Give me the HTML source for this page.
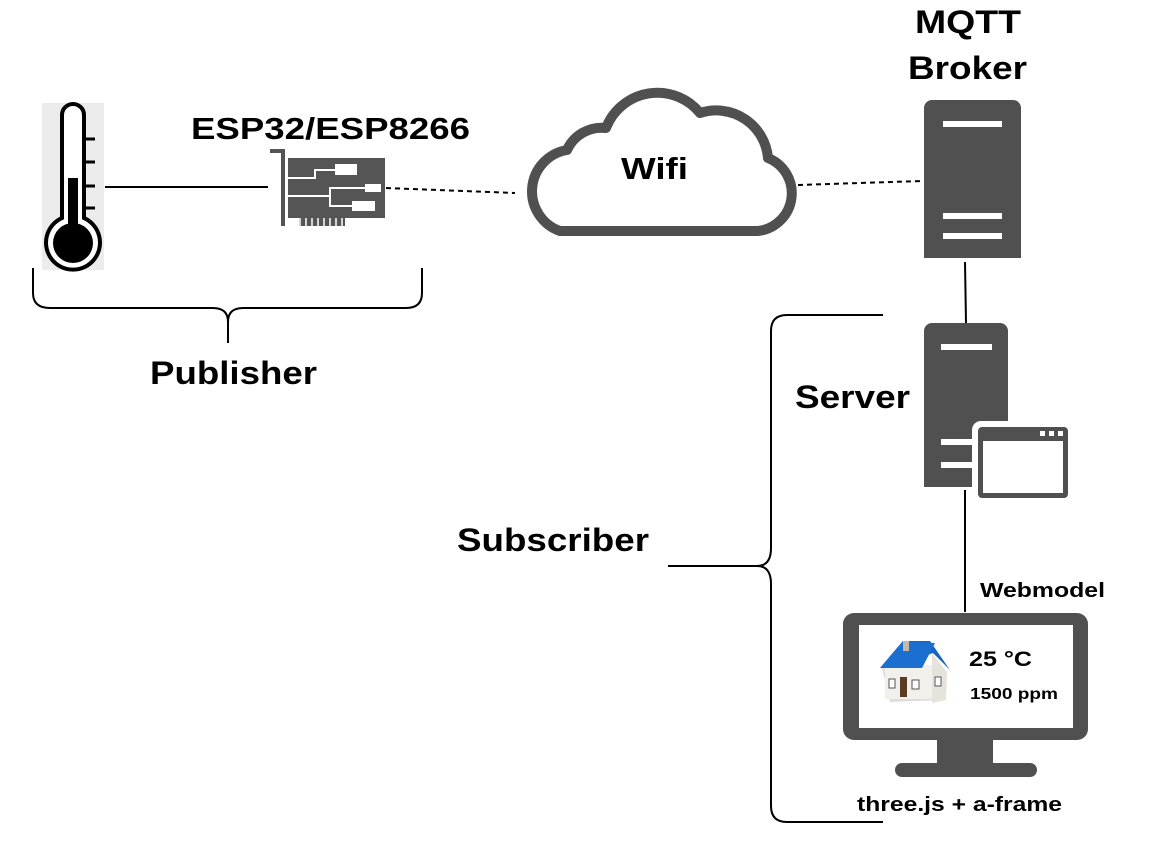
<!DOCTYPE html>
<html><head><meta charset="utf-8"><style>
html,body{margin:0;padding:0;background:#fff;}
svg{display:block;}
text{font-family:"Liberation Sans",Arial,sans-serif;font-weight:bold;fill:#000;}
</style></head><body>
<svg width="1160" height="843" viewBox="0 0 1160 843" xmlns="http://www.w3.org/2000/svg">
<!-- thermometer -->
<rect x="42" y="103" width="62" height="167" fill="#ececec"/>
<path d="M62 218 V115 A11 11 0 0 1 84 115 V218 A27 27 0 1 1 62 218 Z" fill="#fff" stroke="#000" stroke-width="4"/>
<circle cx="73" cy="243" r="20" fill="#000"/>
<rect x="68" y="178" width="10" height="60" fill="#000"/>
<g stroke="#000" stroke-width="3">
<line x1="84" y1="139" x2="95" y2="139"/><line x1="84" y1="162" x2="95" y2="162"/>
<line x1="84" y1="186" x2="95" y2="186"/><line x1="84" y1="208" x2="95" y2="208"/>
</g>
<!-- connectors -->
<line x1="105" y1="187" x2="268" y2="187" stroke="#000" stroke-width="2"/>
<line x1="386" y1="188" x2="515" y2="193" stroke="#000" stroke-width="2" stroke-dasharray="5,4"/>
<line x1="798" y1="185" x2="922" y2="181" stroke="#000" stroke-width="2" stroke-dasharray="5,4"/>
<line x1="965" y1="262" x2="966" y2="323" stroke="#000" stroke-width="2"/>
<line x1="965" y1="490" x2="965" y2="612" stroke="#000" stroke-width="2"/>
<!-- ESP card -->
<path d="M270 151 H283 V226" fill="none" stroke="#555" stroke-width="4"/>
<rect x="288" y="158" width="97" height="60" fill="#555"/>
<rect x="299" y="218" width="46" height="8" fill="#555"/>
<g stroke="#fff" stroke-width="1.5">
<line x1="300" y1="218" x2="300" y2="226"/><line x1="306" y1="218" x2="306" y2="226"/><line x1="312" y1="218" x2="312" y2="226"/><line x1="318" y1="218" x2="318" y2="226"/><line x1="324" y1="218" x2="324" y2="226"/><line x1="330" y1="218" x2="330" y2="226"/><line x1="336" y1="218" x2="336" y2="226"/><line x1="342" y1="218" x2="342" y2="226"/>
</g>
<g fill="none" stroke="#fff" stroke-width="2">
<path d="M288 178 H315 V170 H335"/><path d="M288 196 H330 V188 H365"/><path d="M330 188 V206 H352"/>
</g>
<rect x="335" y="164" width="22" height="11" fill="#fff"/>
<rect x="365" y="184" width="16" height="8" fill="#fff"/>
<rect x="352" y="201" width="23" height="10" fill="#fff"/>
<text x="191" y="139" font-size="31" textLength="279" lengthAdjust="spacingAndGlyphs">ESP32/ESP8266</text>
<!-- publisher brace -->
<path d="M33 268 V293 Q33 308 50 308 H213 Q228 308 228 322 V343 M228 322 Q228 308 243 308 H406 Q422 308 422 293 V268" fill="none" stroke="#000" stroke-width="2"/>
<text x="150" y="384" font-size="32" textLength="167" lengthAdjust="spacingAndGlyphs">Publisher</text>
<!-- cloud -->
<path d="M560 231 H758 A38 38 0 0 0 768 158 A52 52 0 0 0 700 113 A55 55 0 0 0 606 128 A38 38 0 0 0 567 150 A42 42 0 0 0 560 231 Z" fill="#fff" stroke="#505050" stroke-width="10" stroke-linejoin="round"/>
<text x="621" y="179" font-size="31" textLength="67" lengthAdjust="spacingAndGlyphs">Wifi</text>
<!-- broker -->
<text x="915" y="33" font-size="32" textLength="106" lengthAdjust="spacingAndGlyphs">MQTT</text>
<text x="908" y="79" font-size="32" textLength="119" lengthAdjust="spacingAndGlyphs">Broker</text>
<rect x="924" y="100" width="97" height="158" rx="8" fill="#505050"/>
<rect x="924" y="250" width="97" height="8" fill="#505050"/>
<rect x="943" y="121" width="59" height="6" fill="#fff"/>
<rect x="943" y="213" width="59" height="6" fill="#fff"/>
<rect x="943" y="233" width="59" height="6" fill="#fff"/>
<!-- server -->
<text x="795" y="408" font-size="32" textLength="115" lengthAdjust="spacingAndGlyphs">Server</text>
<rect x="924" y="323" width="84" height="164" rx="8" fill="#505050"/>
<rect x="924" y="479" width="20" height="8" fill="#505050"/>
<rect x="941" y="344" width="51" height="6" fill="#fff"/>
<rect x="941" y="439" width="35" height="6" fill="#fff"/>
<rect x="941" y="462" width="35" height="6" fill="#fff"/>
<rect x="972" y="421" width="102" height="83" rx="9" fill="#fff"/>
<rect x="978" y="427" width="90" height="71" rx="4" fill="#505050"/>
<rect x="983" y="441" width="80" height="52" fill="#fff"/>
<rect x="1040" y="431" width="5" height="5" fill="#fff"/><rect x="1049" y="431" width="5" height="5" fill="#fff"/><rect x="1058" y="431" width="5" height="5" fill="#fff"/>
<!-- subscriber brace -->
<path d="M883 315 H787 Q771 315 771 331 V548 Q771 566 757 566 H668 M757 566 Q771 566 771 584 V806 Q771 822 787 822 H883" fill="none" stroke="#000" stroke-width="2"/>
<text x="457" y="551" font-size="32" textLength="192" lengthAdjust="spacingAndGlyphs">Subscriber</text>
<text x="980" y="597" font-size="20" textLength="125" lengthAdjust="spacingAndGlyphs">Webmodel</text>
<!-- monitor -->
<rect x="843" y="613" width="245" height="127" rx="11" fill="#505050"/>
<rect x="859" y="625" width="214" height="103" fill="#fff"/>
<rect x="937" y="738" width="56" height="28" fill="#505050"/>
<rect x="895" y="763" width="142" height="14" rx="7" fill="#505050"/>
<!-- house -->
<polygon points="882,668 940,668 945,700 890,702" fill="#ddd"/>
<rect x="885" y="665" width="47" height="34" fill="#f2f0ea"/>
<polygon points="932,653 947,672 946,700 932,703" fill="#e6e3dc"/>
<polygon points="880,668 903,641 930,641 950,670 933,653 890,668" fill="#1565c0"/>
<polygon points="880,668 903,641 935,643 922,668" fill="#1a6fd0"/>
<rect x="903" y="641" width="6" height="10" fill="#c9b9a5"/>
<rect x="900" y="677" width="7" height="20" fill="#5d3a22"/>
<rect x="889" y="679" width="6" height="9" fill="#fff" stroke="#555" stroke-width="1"/>
<rect x="912" y="680" width="7" height="9" fill="#fff" stroke="#555" stroke-width="1"/>
<rect x="935" y="677" width="6" height="9" fill="#fff" stroke="#555" stroke-width="1"/>
<text x="969" y="666" font-size="21" textLength="63" lengthAdjust="spacingAndGlyphs">25 °C</text>
<text x="970" y="699" font-size="16" textLength="88" lengthAdjust="spacingAndGlyphs">1500 ppm</text>
<text x="857" y="811" font-size="20" textLength="205" lengthAdjust="spacingAndGlyphs">three.js + a-frame</text>
</svg>
</body></html>
